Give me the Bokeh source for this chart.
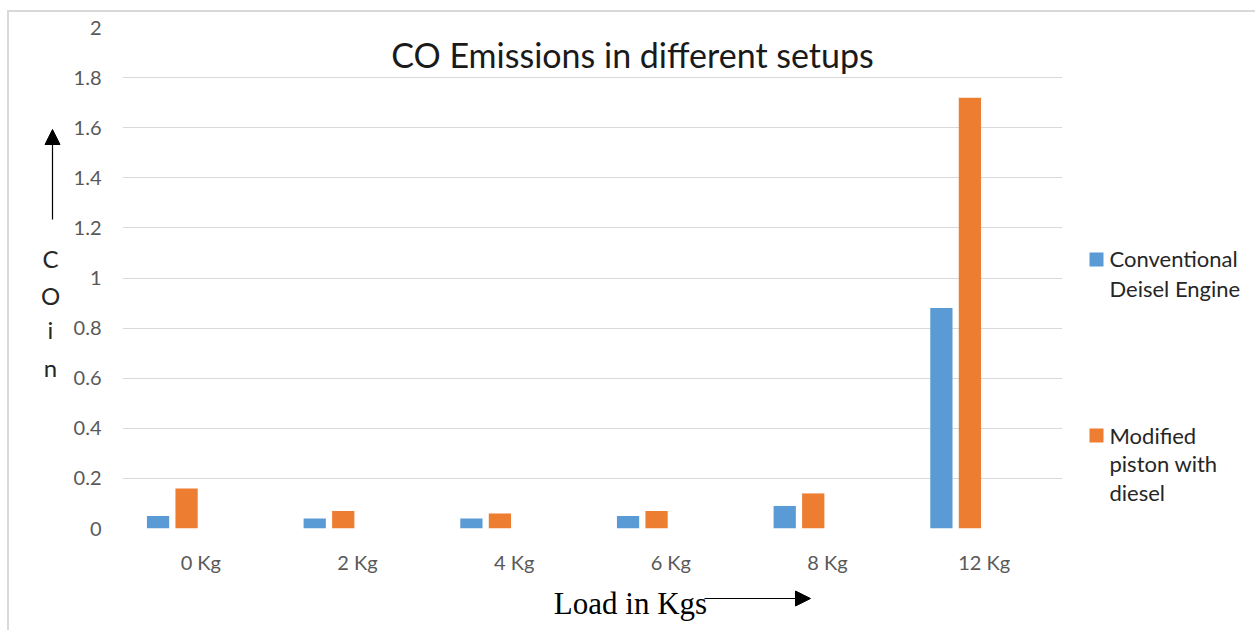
from bokeh.plotting import figure
from bokeh.layouts import row, column
from bokeh.models import (Range1d, FactorRange, FixedTicker, NumeralTickFormatter,
                          Label, Arrow, NormalHead, BoxAnnotation)
from bokeh.transform import dodge
from bokeh.embed import file_html
from bokeh.resources import INLINE

# ---- data ----
loads = ["0 Kg", "2 Kg", "4 Kg", "6 Kg", "8 Kg", "12 Kg"]
conventional = [0.05, 0.04, 0.04, 0.05, 0.09, 0.88]
modified = [0.16, 0.07, 0.06, 0.07, 0.14, 1.72]
y_ticks = [0, 0.2, 0.4, 0.6, 0.8, 1.0, 1.2, 1.4, 1.6, 1.8, 2.0]
series_names = [["Conventional", "Deisel Engine"], ["Modified", "piston with", "diesel"]]
title_text = "CO Emissions in different setups"
x_label = "Load in Kgs"
y_label_letters = ["C", "O", "i", "n"]

BLUE = "#5B9BD5"
ORANGE = "#ED7D31"
FONT = "Lato"
TXT = "#262626"


def blank(width, height):
    f = figure(width=width, height=height, x_range=Range1d(0, 1), y_range=Range1d(0, 1),
               x_axis_type=None, y_axis_type=None, output_backend="svg", toolbar_location=None,
               min_border=0)
    f.min_border_left = f.min_border_right = f.min_border_top = f.min_border_bottom = 0
    f.outline_line_color = None
    f.grid.visible = False
    return f


# ---- left strip: y label + arrow ----
LH = 618
left = blank(53, LH)
for letter, ly in zip(y_label_letters, [246, 283, 317, 355]):
    left.add_layout(Label(x=41, y=LH - ly, x_units="screen", y_units="screen", text=letter,
                          text_font=FONT, text_font_size="24px", text_color=TXT,
                          text_align="center", text_baseline="middle"))
left.add_layout(Arrow(x_start=43, y_start=LH - 207, x_end=43, y_end=LH - 117,
                      start_units="screen", end_units="screen", line_color="black", line_width=1.2,
                      end=NormalHead(size=15, fill_color="black", line_color="black", line_width=1)))

# ---- main chart ----
p = figure(width=1013, height=568, x_range=FactorRange(factors=loads), y_range=Range1d(0, 2),
           output_backend="svg", toolbar_location=None,
           min_border_left=60, min_border_right=13, min_border_top=15, min_border_bottom=52)
p.outline_line_color = None

src = dict(load=loads, conv=conventional, mod=modified)
p.vbar(x=dodge("load", -0.273, range=p.x_range), top="conv", width=0.142, source=src,
       fill_color=BLUE, line_color=None)
p.vbar(x=dodge("load", -0.091, range=p.x_range), top="mod", width=0.142, source=src,
       fill_color=ORANGE, line_color=None)

p.xgrid.grid_line_color = None
p.ygrid.grid_line_color = "#d9d9d9"
p.ygrid.grid_line_width = 1
p.yaxis.ticker = FixedTicker(ticks=y_ticks)
p.yaxis.formatter = NumeralTickFormatter(format="0.[0]")
for ax in (p.xaxis[0], p.yaxis[0]):
    ax.axis_line_color = None
    ax.major_tick_line_color = None
    ax.minor_tick_line_color = None
    ax.major_tick_out = 0
    ax.major_tick_in = 0
    ax.major_label_text_font = FONT
    ax.major_label_text_font_size = "20px"
    ax.major_label_text_color = "#595959"
p.yaxis.major_label_standoff = 21
p.xaxis.major_label_standoff = 21

p.add_layout(Label(x=510, y=474, x_units="screen", y_units="screen", text=title_text,
                   text_font=FONT, text_font_size="34px", text_color="#1a1a1a",
                   text_align="center", text_baseline="middle"))

# ---- bottom strip: x label + arrow (frame aligned with the chart frame) ----
BH = 50
bottom = blank(1013, BH)
bottom.add_layout(Label(x=508, y=BH - 23, x_units="screen", y_units="screen", text=x_label,
                        text_font="Liberation Serif", text_font_size="31px", text_color="black",
                        text_align="center", text_baseline="middle"))
bottom.add_layout(Arrow(x_start=582, y_start=BH - 18, x_end=688, y_end=BH - 18,
                        start_units="screen", end_units="screen", line_color="black", line_width=1.2,
                        end=NormalHead(size=15, fill_color="black", line_color="black", line_width=1)))

# ---- right strip: legend ----
RH = 618
right = blank(180, RH)
legend_specs = [(BLUE, 240, [246, 276]), (ORANGE, 416, [423, 451, 480])]
for (color, sq_top, line_ys), lines in zip(legend_specs, series_names):
    right.add_layout(BoxAnnotation(left=14, right=28, top=RH - sq_top, bottom=RH - sq_top - 14,
                                   left_units="screen", right_units="screen",
                                   top_units="screen", bottom_units="screen",
                                   fill_color=color, fill_alpha=1, line_color=None))
    for txt, ly in zip(lines, line_ys):
        right.add_layout(Label(x=34, y=RH - ly, x_units="screen", y_units="screen", text=txt,
                               text_font=FONT, text_font_size="22px", text_color=TXT,
                               text_align="left", text_baseline="middle"))

layout = row(left, column(p, bottom), right)
layout.styles = {"border-top": "2px solid #d9d9d9", "border-left": "2px solid #d9d9d9",
                 "margin-left": "7px", "margin-top": "10px"}

open("out.html", "w").write(file_html(layout, INLINE))
